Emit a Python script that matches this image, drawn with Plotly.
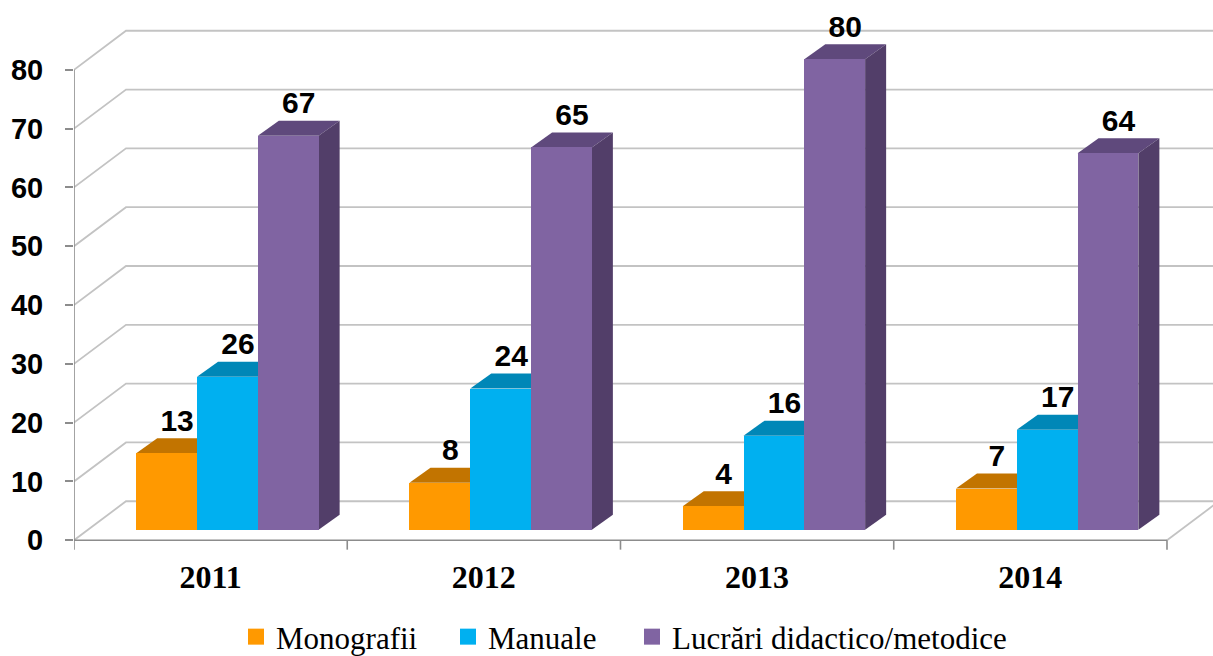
import plotly.graph_objects as go

# ---- data ----
years = ["2011", "2012", "2013", "2014"]
series_names = ["Monografii", "Manuale", "Lucrări didactico/metodice"]
monografii = [13, 8, 4, 7]
manuale = [26, 24, 16, 17]
lucrari = [67, 65, 80, 64]
y_ticks = [0, 10, 20, 30, 40, 50, 60, 70, 80]

series_values = [monografii, manuale, lucrari]

# ---- styling ----
front_colors = ["#FF9900", "#00B0F0", "#8064A2"]
top_colors = ["#C27400", "#0087B7", "#5F497C"]
side_colors = ["#B06A00", "#007AA6", "#523E69"]
grid_color = "#C3C3C3"
axis_color = "#8C8C8C"

# ---- pseudo-3D geometry, in axis units ----
X_MIN, X_MAX = -0.5, 3.6684
Y_MIN, Y_MAX = -2.0, 89.31
WALL_DX, WALL_DY = 0.1903, 6.63      # depth of the back wall / floor
BAR_W = 0.2225                        # width of one bar
BAR_SHIFT = 0.0615                    # bars sit part-way into the floor
BAR_LIFT = 1.785
BAR_DX, BAR_DY = 0.0769, 2.55         # depth of each bar
TICK_DROP = 1.6

fig = go.Figure()
shapes = []


def line_shape(points, color, width):
    path = "M " + " L ".join(f"{x},{y}" for x, y in points)
    return dict(type="path", path=path, xref="x", yref="y", layer="below",
                line=dict(color=color, width=width))


def face_shape(points, color):
    path = "M " + " L ".join(f"{x},{y}" for x, y in points) + " Z"
    return dict(type="path", path=path, xref="x", yref="y", layer="below",
                fillcolor=color, line=dict(width=0))


# back wall and floor gridlines
for v in y_ticks:
    shapes.append(line_shape([(X_MIN, v), (X_MIN + WALL_DX, v + WALL_DY),
                              (X_MAX + 1, v + WALL_DY)], grid_color, 1.8))
# floor right edge
shapes.append(line_shape([(3.5, 0), (3.5 + WALL_DX, WALL_DY)], grid_color, 1.8))
# floor front edge and value axis
shapes.append(line_shape([(X_MIN, 0), (3.5, 0)], axis_color, 1.6))
shapes.append(line_shape([(X_MIN, 0), (X_MIN, y_ticks[-1])], axis_color, 1.6))
# category boundary ticks
for i in range(len(years) + 1):
    xb = i - 0.5
    shapes.append(line_shape([(xb, 0), (xb, -TICK_DROP)], axis_color, 1.6))

# bars: front faces as Bar traces, top/side faces as shapes behind them
for k, (name, vals) in enumerate(zip(series_names, series_values)):
    xs = [i + BAR_SHIFT + (k - 1) * BAR_W for i in range(len(years))]
    for xc, v in zip(xs, vals):
        x0, x1 = xc - BAR_W / 2, xc + BAR_W / 2
        y0, y1 = BAR_LIFT, BAR_LIFT + v
        shapes.append(face_shape([(x0, y1), (x1, y1), (x1 + BAR_DX, y1 + BAR_DY),
                                  (x0 + BAR_DX, y1 + BAR_DY)], top_colors[k]))
        shapes.append(face_shape([(x1, y0), (x1 + BAR_DX, y0 + BAR_DY),
                                  (x1 + BAR_DX, y1 + BAR_DY), (x1, y1)], side_colors[k]))
    fig.add_trace(go.Bar(
        x=xs, y=vals, base=BAR_LIFT, width=BAR_W, name=name,
        marker=dict(color=front_colors[k], line=dict(width=0)),
        showlegend=False, hovertemplate="%{y}<extra>" + name + "</extra>",
    ))
    fig.add_trace(go.Scatter(
        x=[x + BAR_DX / 2 for x in xs],
        y=[BAR_LIFT + v + BAR_DY for v in vals],
        mode="text", text=[str(v) for v in vals], textposition="top center",
        textfont=dict(family="Liberation Sans", size=30, color="black", weight="bold"),
        showlegend=False, hoverinfo="skip",
    ))

# legend entries, one legend per series for exact placement
legend_x = [236, 448, 632]
for k, name in enumerate(series_names):
    lg = "legend" if k == 0 else f"legend{k + 1}"
    fig.add_trace(go.Scatter(
        x=[None], y=[None], mode="markers", name=name, legend=lg,
        marker=dict(symbol="square", size=17, color=front_colors[k]),
    ))

legend_common = dict(
    orientation="h", xref="container", yref="container",
    xanchor="left", yanchor="middle", y=(656 - 637) / 656,
    font=dict(family="Liberation Serif", size=31, color="black"),
    bgcolor="rgba(0,0,0,0)", borderwidth=0,
)

fig.update_layout(
    width=1213, height=656,
    margin=dict(l=74, r=0, t=15, b=104, pad=0),
    paper_bgcolor="white", plot_bgcolor="white",
    barmode="overlay", bargap=0,
    shapes=shapes,
    xaxis=dict(
        range=[X_MIN, X_MAX], tickvals=list(range(len(years))), ticktext=years,
        showgrid=False, zeroline=False, showline=False, ticks="",
        tickfont=dict(family="Liberation Serif", size=32, color="black", weight="bold"),
        ticklabelstandoff=3,
    ),
    yaxis=dict(
        range=[Y_MIN, Y_MAX], tickvals=y_ticks,
        showgrid=False, zeroline=False, showline=False,
        ticks="outside", ticklen=8, tickwidth=1.6, tickcolor=axis_color,
        tickfont=dict(family="Liberation Sans", size=29, color="black", weight="bold"),
        ticklabelstandoff=16,
    ),
    legend=dict(legend_common, x=legend_x[0] / 1213),
    legend2=dict(legend_common, x=legend_x[1] / 1213),
    legend3=dict(legend_common, x=legend_x[2] / 1213),
)

fig.write_html("out.html")
